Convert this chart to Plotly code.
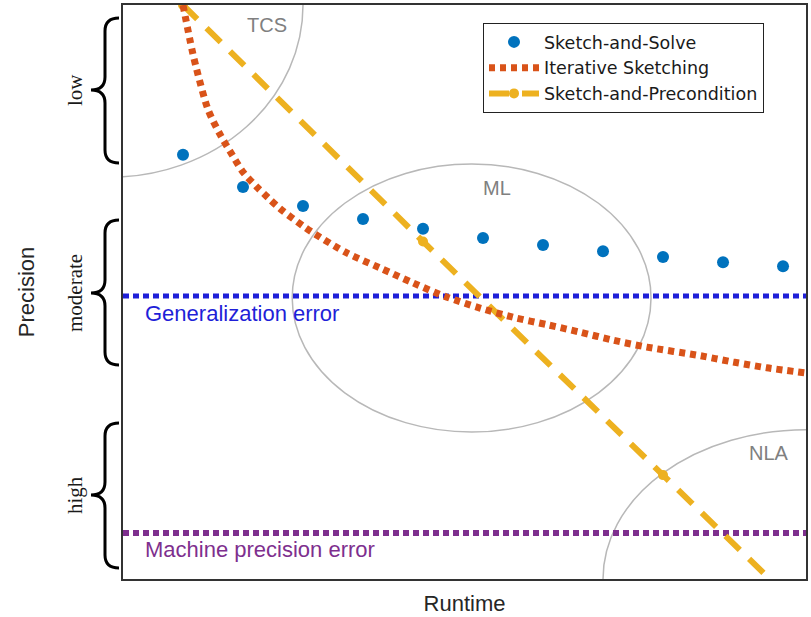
import plotly.graph_objects as go

# ---------------- data ----------------
solve_x = [1, 2, 3, 4, 5, 6, 7, 8, 9, 10, 11]
solve_y = [7.39, 6.83, 6.50, 6.27, 6.10, 5.94, 5.82, 5.71, 5.61, 5.52, 5.45]

iter_x = [1.00, 1.15, 1.23, 1.42, 1.62, 1.82, 2.00, 2.23, 2.42, 2.62, 3.00, 3.20,
          3.73, 4.28, 4.83, 5.40, 5.95, 6.50, 7.07, 7.62, 8.17, 8.73, 9.62,
          10.17, 10.73, 11.38]
iter_y = [10.00, 9.22, 8.87, 8.17, 7.74, 7.39, 7.09, 6.83, 6.64, 6.45, 6.15, 6.01,
          5.68, 5.42, 5.16, 4.91, 4.72, 4.56, 4.43, 4.30, 4.16, 4.04, 3.89,
          3.78, 3.68, 3.59]

precond_x = [1, 5, 9, 13]
precond_y = [10.0, 5.88, 1.81, -2.26]

gen_error = 4.93
machine_error = 0.80

series_names = ["Sketch-and-Solve", "Iterative Sketching", "Sketch-and-Precondition"]
region_labels = ["TCS", "ML", "NLA"]
brace_labels = ["low", "moderate", "high"]

X_RANGE = [0, 11.383]
Y_RANGE = [0, 10]

BLUE = "#0072BD"
RED = "#D95319"
YELLOW = "#EDB120"
PURPLE = "#7E2F8E"
GENBLUE = "#1f1fd8"
GRAY = "#b8b8b8"
SANS = "Liberation Sans, Arial, sans-serif"
WIDE = "DejaVu Sans, Liberation Sans, sans-serif"
SERIF = "Liberation Serif, Times New Roman, serif"

W, H = 811, 617
ML_, MR_, MT_, MB_ = 123, 5, 5, 38
PW, PH = W - ML_ - MR_, H - MT_ - MB_

fig = go.Figure()

# horizontal reference lines (spanning whole x range)
fig.add_trace(go.Scatter(x=X_RANGE, y=[gen_error, gen_error], mode="lines",
                         line=dict(color=GENBLUE, width=5, dash="6px,4px"),
                         showlegend=False, hoverinfo="skip"))
fig.add_trace(go.Scatter(x=X_RANGE, y=[machine_error, machine_error], mode="lines",
                         line=dict(color=PURPLE, width=6, dash="6px,4px"),
                         showlegend=False, hoverinfo="skip"))

fig.add_trace(go.Scatter(x=precond_x, y=precond_y, mode="lines+markers",
                         name=series_names[2],
                         line=dict(color=YELLOW, width=6, dash="20px,13px"),
                         marker=dict(color=YELLOW, size=10)))
fig.add_trace(go.Scatter(x=iter_x, y=iter_y, mode="lines", name=series_names[1],
                         line=dict(color=RED, width=7, dash="6px,5px", shape="spline",
                                   smoothing=0.8)))
fig.add_trace(go.Scatter(x=solve_x, y=solve_y, mode="markers", name=series_names[0],
                         marker=dict(color=BLUE, size=12)))

# region ellipses (clipped by plot area)
shapes = [
    dict(type="circle", xref="x", yref="y", x0=-3.43, x1=3.0, y0=7.0, y1=13.0,
         line=dict(color=GRAY, width=1.5), layer="below"),
    dict(type="circle", xref="x", yref="y", x0=2.82, x1=8.8, y0=2.56, y1=7.23,
         line=dict(color=GRAY, width=1.5), layer="below"),
    dict(type="circle", xref="x", yref="y", x0=8.0, x1=14.77, y0=-2.6, y1=2.6,
         line=dict(color=GRAY, width=1.5), layer="below"),
]


def P(px, py):
    return f"{(px - ML_) / PW:.5f},{(H - MB_ - py) / PH:.5f}"


def brace(top, bottom, tip, xa=119, xm=105, xt=91, r=13):
    return ("M" + P(xa, top) + " Q" + P(xm, top) + " " + P(xm, top + r) +
            " L" + P(xm, tip - r) + " Q" + P(xm, tip) + " " + P(xt, tip) +
            " Q" + P(xm, tip) + " " + P(xm, tip + r) +
            " L" + P(xm, bottom - r) + " Q" + P(xm, bottom) + " " + P(xa, bottom))


for (t, b, tp) in [(18, 163, 90), (220, 365, 293), (423, 568, 495)]:
    shapes.append(dict(type="path", xref="paper", yref="paper", path=brace(t, b, tp),
                       line=dict(color="black", width=3)))

annotations = []
for lab, x, y in zip(region_labels, [2.4, 6.23, 10.77], [9.65, 6.81, 2.20]):
    annotations.append(dict(x=x, y=y, xref="x", yref="y", text=lab, showarrow=False,
                            font=dict(family=SANS, size=20, color="#808080")))
annotations.append(dict(x=0.33, y=4.63, xref="x", yref="y", text="Generalization error",
                        xanchor="left", showarrow=False,
                        font=dict(family=SANS, size=22, color=GENBLUE)))
annotations.append(dict(x=0.33, y=0.51, xref="x", yref="y", text="Machine precision error",
                        xanchor="left", showarrow=False,
                        font=dict(family=SANS, size=22, color=PURPLE)))
for lab, py in zip(brace_labels, [90, 293, 495]):
    annotations.append(dict(x=(75 - ML_) / PW, y=(H - MB_ - py) / PH, xref="paper",
                            yref="paper", text=lab, textangle=-90, showarrow=False,
                            xanchor="center", yanchor="middle",
                            font=dict(family=SERIF, size=21, color="#1a1a1a")))

fig.update_layout(
    width=W, height=H, autosize=False,
    margin=dict(l=ML_, r=MR_, t=MT_, b=MB_, autoexpand=False),
    paper_bgcolor="white", plot_bgcolor="white",
    shapes=shapes, annotations=annotations,
    xaxis=dict(range=X_RANGE, showgrid=False, zeroline=False, showticklabels=False,
               ticks="", showline=True, mirror=True, linecolor="#333", linewidth=1.5,
               automargin=False,
               title=dict(text="Runtime", standoff=16,
                          font=dict(family=SANS, size=22, color="#262626"))),
    yaxis=dict(range=Y_RANGE, showgrid=False, zeroline=False, showticklabels=False,
               ticks="", showline=True, mirror=True, linecolor="#333", linewidth=1.5,
               automargin=False,
               title=dict(text="Precision", standoff=81,
                          font=dict(family=SANS, size=22, color="#262626"))),
    legend=dict(x=(483 - ML_) / PW, y=(H - MB_ - 23) / PH, xanchor="left", yanchor="top",
                bgcolor="white", bordercolor="#222", borderwidth=1, itemwidth=50,
                traceorder="reversed",
                font=dict(family=WIDE, size=17.5, color="#1a1a1a")),
)

fig.write_html("out.html",
               config={"displayModeBar": False},
               post_script="document.body.style.margin='0';"
                           "document.body.style.overflow='hidden';")
